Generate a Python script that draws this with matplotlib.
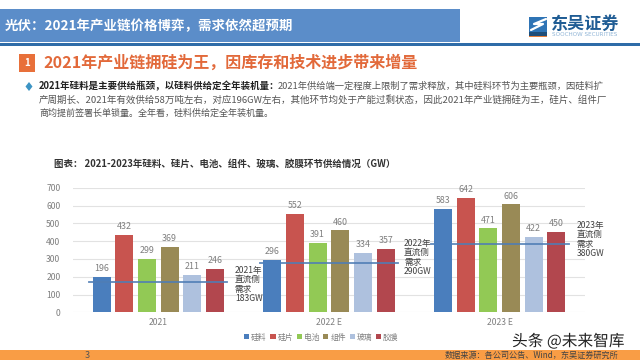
import numpy as np
import matplotlib
matplotlib.use('Agg')
import matplotlib.pyplot as plt
import matplotlib.patheffects as pe
from matplotlib.patches import Rectangle, Polygon

plt.rcParams['font.family'] = ['Noto Sans CJK SC', 'DejaVu Sans']

# chart data
years = ['2021', '2022 E', '2023 E']
series_names = ['硅料', '硅片', '电池', '组件', '玻璃', '胶膜']
silicon = [196, 296, 583]
wafer = [432, 552, 642]
cell = [299, 391, 471]
module = [369, 460, 606]
glass = [211, 334, 422]
film = [246, 357, 450]
demand_line = [170, 275, 384]
demand_notes = ['2021年\n直流侧\n需求\n183GW', '2022年\n直流侧\n需求\n290GW', '2023年\n直流侧\n需求\n380GW']
y_ticks = [0, 100, 200, 300, 400, 500, 600, 700]

series_values = [silicon, wafer, cell, module, glass, film]
colors = ['#4A7EBD', '#C8544F', '#92C955', '#998A56', '#AEC1DE', '#B2474E']

# full width punctuation
COMMA = '\uff0c'
COLON = '\uff1a'

body_lines = [
    f'2021年供给端一定程度上限制了需求释放{COMMA}其中硅料环节为主要瓶颈{COMMA}因硅料扩',
    f'产周期长、2021年有效供给58万吨左右{COMMA}对应196GW左右{COMMA}其他环节均处于产能过剩状态{COMMA}因此2021年产业链拥硅为王{COMMA}硅片、组件厂',
    f'商均提前签署长单锁量。全年看{COMMA}硅料供给定全年装机量。',
]

fig = plt.figure(figsize=(6.4, 3.6), dpi=100, facecolor='white')

# page layer in pixel coordinates
page = fig.add_axes([0, 0, 1, 1])
page.set_xlim(0, 640)
page.set_ylim(360, 0)
page.axis('off')

page.add_patch(Rectangle((0, 8.5), 460, 33.5, color='#5B8DC9', lw=0))
page.add_patch(Rectangle((0, 43), 640, 2.5, color='#2F6CA8', lw=0))
page.text(5, 26, f'光伏{COLON}2021年产业链价格博弈{COMMA}需求依然超预期', color='white', fontsize=9.7,
          fontweight='bold', va='center', ha='left')

# logo
page.add_patch(Rectangle((529, 17), 18, 15, color='#2F74B5', lw=0))
page.plot([531, 543, 534, 546], [30, 24, 24, 19], color='white', lw=1.6, solid_capstyle='round')
page.add_patch(Rectangle((529, 32), 18, 3.5, color='#1F4E79', lw=0))
page.add_patch(Rectangle((529, 35.5), 18, 1.2, color='#E8803A', lw=0))
page.text(551, 24, '东吴证券', color='#1F5C94', fontsize=12.3, fontweight='bold', va='center', ha='left')
page.text(551.5, 34.5, 'SOOCHOW SECURITIES', color='#8FB4D6', fontsize=4.1, va='center', ha='left',
          family='DejaVu Sans')

# section heading
page.add_patch(Rectangle((19, 54), 16, 18, color='#E8703A', lw=0))
page.text(27, 63.5, '1', color='white', fontsize=7, fontweight='bold', va='center', ha='center')
page.text(43, 63, f'2021年产业链拥硅为王{COMMA}因库存和技术进步带来增量', color='#E2693A', fontsize=11.55,
          fontweight='bold', va='center', ha='left')

# bullet paragraph
page.add_patch(Polygon([(29, 82), (32.5, 86.5), (29, 91), (25.5, 86.5)], color='#3C94C4', lw=0))
page.text(39, 86.5, f'2021年硅料是主要供给瓶颈{COMMA}以硅料供给定全年装机量{COLON}', color='#222222', fontsize=6.8,
          fontweight='bold', va='center', ha='left')
page.text(278, 86.5, body_lines[0], color='#555555', fontsize=6.7, va='center', ha='left')
page.text(39, 100, body_lines[1], color='#555555', fontsize=6.85, va='center', ha='left')
page.text(39, 113.5, body_lines[2], color='#555555', fontsize=6.5, va='center', ha='left')

page.text(54, 164, f'图表{COLON} 2021-2023年硅料、硅片、电池、组件、玻璃、胶膜环节供给情况\uff08GW\uff09', color='#333333',
          fontsize=6.85, fontweight='bold', va='center', ha='left')

# footer
page.add_patch(Rectangle((0, 350), 640, 10, color='#F99D45', lw=0))
page.text(87, 355, '3', color='#555555', fontsize=6.5, va='center', ha='center')
page.text(445, 355, f'数据来源{COLON}各公司公告、Wind{COMMA}东吴证券研究所', color='#444444', fontsize=5.9,
          va='center', ha='left')

# chart layer
ax = fig.add_axes([73 / 640, (360 - 312.3) / 360, 512 / 640, 124.6 / 360])
ax.patch.set_alpha(0)
x = np.arange(len(years))
bar_width = 0.105
step = 0.133

for i, (name, values, color) in enumerate(zip(series_names, series_values, colors)):
    offset = (i - 2.5) * step
    bars = ax.bar(x + offset, values, bar_width, color=color, label=name, zorder=2)
    if i == 0:
        # the first bar hides the demand line in the two later years
        bars[1].set_zorder(4)
        bars[2].set_zorder(4)
    for xpos, v in zip(x + offset, values):
        ax.text(xpos, v + 22, str(v), ha='center', va='bottom', fontsize=6.4, color='#7F7F7F', zorder=5)

for xpos, level in zip(x, demand_line):
    ax.plot([xpos - 0.404, xpos + 0.404], [level, level], color='#4F7DB5', lw=1.3, alpha=0.9, zorder=3)

note_pos = [(0.449, 52), (1.44, 204), (2.45, 305)]
for (xpos, ypos), note in zip(note_pos, demand_notes):
    ax.text(xpos, ypos, note, fontsize=6.2, color='#404040', linespacing=1.05,
            va='bottom', ha='left', zorder=6, clip_on=False)

ax.set_xlim(-0.5, 2.5)
ax.set_ylim(0, 700)
ax.set_yticks(y_ticks)
ax.set_xticks(x)
ax.set_xticklabels(years)
ax.tick_params(axis='both', length=0, labelsize=6.2, labelcolor='#7F7F7F', pad=9)
ax.tick_params(axis='x', pad=4)
ax.grid(axis='y', color='#E2E2E2', lw=0.8, zorder=0)
ax.set_axisbelow(True)
for s in ax.spines.values():
    s.set_visible(False)

ax.legend(loc='upper center', bbox_to_anchor=(0.485, -0.17), ncol=6, frameon=False, fontsize=5.6,
          labelcolor='#7F7F7F', handlelength=0.65, handleheight=0.65, handletextpad=0.25, columnspacing=0.5,
          borderpad=0, borderaxespad=0)

# watermark on top of everything
mark = fig.add_axes([0, 0, 1, 1])
mark.set_xlim(0, 640)
mark.set_ylim(360, 0)
mark.axis('off')
mark.text(512, 341.5, '头条 @未来智库', color='#222222', fontsize=11.3, va='center', ha='left',
          path_effects=[pe.withStroke(linewidth=2, foreground='white')])

fig.savefig('out.png', dpi=100)
